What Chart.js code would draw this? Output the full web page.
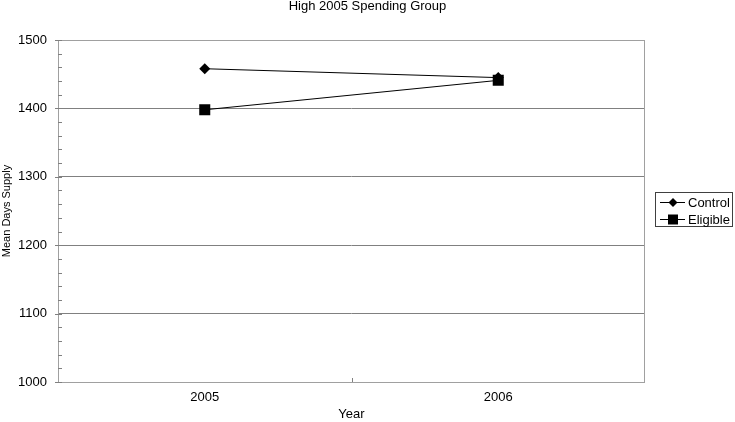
<!DOCTYPE html>
<html>
<head>
<meta charset="utf-8">
<script src="https://cdn.jsdelivr.net/npm/chart.js@4/dist/chart.umd.min.js"></script>
<style>
html,body{margin:0;padding:0;background:#fff;}
#wrap{width:735px;height:422px;position:relative;}
</style>
</head>
<body>
<div id="wrap"><canvas id="c" width="735" height="422"></canvas></div>
<script>
const categories = ["2005", "2006"];
const controlValues = [1458, 1445];
const eligibleValues = [1398, 1441];
const seriesNames = ["Control", "Eligible"];
const yTicks = [1000, 1100, 1200, 1300, 1400, 1500];
const chartTitle = "High 2005 Spending Group";
const yTitle = "Mean Days Supply";
const xTitle = "Year";

const FONT = "'Liberation Sans', Arial, sans-serif";

const framePlugin = {
  id: 'frame',
  beforeDatasetsDraw(chart) {
    const {ctx, chartArea: a, scales} = chart;
    ctx.save();
    ctx.strokeStyle = '#a0a0a0';
    ctx.lineWidth = 1;
    ctx.strokeRect(a.left + 0.5, a.top + 0.5, a.right - a.left - 1, a.bottom - a.top);
    const y = scales.y;
    ctx.strokeStyle = '#808080';
    ctx.beginPath();
    for (let v = y.min; v <= y.max; v += 20) {
      const py = Math.round(y.getPixelForValue(v)) + 0.5;
      ctx.moveTo(a.left, py);
      ctx.lineTo(a.left + 4, py);
    }
    yTicks.forEach(v => {
      const py = Math.round(y.getPixelForValue(v)) + 0.5;
      ctx.moveTo(a.left - 3, py);
      ctx.lineTo(a.left, py);
    });
    const x = scales.x;
    const mid = Math.round((x.getPixelForValue(0) + x.getPixelForValue(1)) / 2) + 0.5;
    ctx.moveTo(mid, a.bottom);
    ctx.lineTo(mid, a.bottom - 4);
    ctx.stroke();
    ctx.restore();
  },
  afterDraw(chart) {
    const {ctx} = chart;
    const ds = chart.data.datasets;
    ctx.save();
    const bx = 655, by = 192, bw = 77, bh = 34;
    ctx.strokeStyle = '#404040';
    ctx.lineWidth = 1;
    ctx.strokeRect(bx + 0.5, by + 0.5, bw, bh);
    ds.forEach((d, i) => {
      const cy = by + 10 + i * 17;
      ctx.strokeStyle = '#000';
      ctx.beginPath();
      ctx.moveTo(bx + 5, cy + 0.5);
      ctx.lineTo(bx + 30, cy + 0.5);
      ctx.stroke();
      ctx.fillStyle = '#000';
      ctx.beginPath();
      const mx = bx + 18;
      if (d.pointStyle === 'rectRot') {
        ctx.moveTo(mx, cy - 4);
        ctx.lineTo(mx + 4.5, cy + 0.5);
        ctx.lineTo(mx, cy + 5);
        ctx.lineTo(mx - 4.5, cy + 0.5);
        ctx.closePath();
      } else {
        ctx.rect(mx - 5, cy - 4.5, 10, 10);
      }
      ctx.fill();
      ctx.font = "13px " + FONT;
      ctx.textBaseline = 'middle';
      ctx.textAlign = 'left';
      ctx.fillText(d.label, bx + 33, cy + 1);
    });
    ctx.restore();
  }
};

new Chart(document.getElementById('c'), {
  type: 'line',
  data: {
    labels: categories,
    datasets: [
      {
        label: seriesNames[0],
        data: controlValues,
        borderColor: '#000',
        backgroundColor: '#000',
        borderWidth: 1,
        pointStyle: 'rectRot',
        pointRadius: 5.5,
        pointBorderWidth: 0,
        tension: 0,
        fill: false
      },
      {
        label: seriesNames[1],
        data: eligibleValues,
        borderColor: '#000',
        backgroundColor: '#000',
        borderWidth: 1,
        pointStyle: 'rect',
        pointRadius: 7.8,
        pointBorderWidth: 0,
        tension: 0,
        fill: false
      }
    ]
  },
  options: {
    responsive: false,
    animation: false,
    events: [],
    layout: { padding: 0 },
    plugins: {
      legend: { display: false },
      tooltip: { enabled: false },
      title: {
        display: true,
        text: chartTitle,
        color: '#000',
        font: { family: FONT, size: 13, weight: 'normal', lineHeight: 1.0 },
        padding: { top: 0, bottom: 27 }
      }
    },
    scales: {
      x: {
        type: 'category',
        offset: true,
        grid: { display: false, drawTicks: false },
        border: { display: false },
        ticks: {
          color: '#000',
          font: { family: FONT, size: 13 },
          padding: 8
        },
        title: {
          display: true,
          text: xTitle,
          color: '#000',
          font: { family: FONT, size: 13 },
          padding: { top: 7, bottom: 0 }
        },
        afterFit(s) { s.height = 40; }
      },
      y: {
        min: 1000,
        max: 1500,
        afterBuildTicks(s) { s.ticks = yTicks.map(v => ({ value: v })); },
        grid: {
          color: '#808080',
          lineWidth: 1,
          drawTicks: false
        },
        border: { display: false },
        ticks: {
          color: '#000',
          font: { family: FONT, size: 13 },
          padding: 11,
          callback: v => String(v)
        },
        title: {
          display: true,
          text: yTitle,
          color: '#000',
          font: { family: FONT, size: 11 },
          padding: { top: 0, bottom: 2 }
        },
        afterFit(s) { s.width = 58; }
      },
      yRight: {
        position: 'right',
        min: 1000,
        max: 1500,
        grid: { display: false, drawTicks: false },
        border: { display: false },
        ticks: { display: false },
        afterFit(s) { s.width = 90; }
      }
    }
  },
  plugins: [framePlugin]
});
</script>
</body>
</html>
